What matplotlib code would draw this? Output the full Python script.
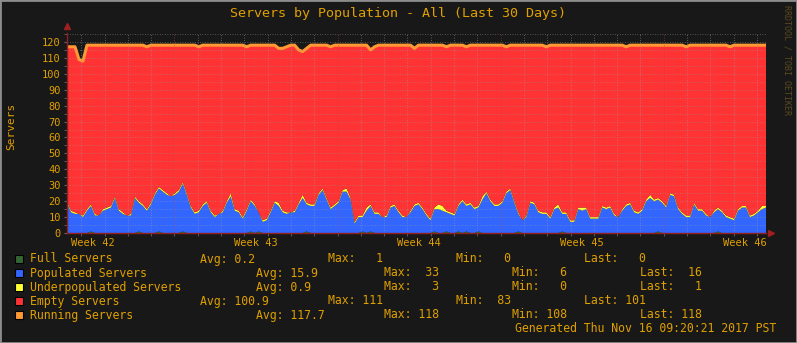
import matplotlib
matplotlib.use('Agg')
import matplotlib.pyplot as plt
import numpy as np
from matplotlib.patches import Rectangle

# Data (30 days, ~4 hour samples)
populated = [
    19, 13, 12, 12, 10, 14, 16, 11, 11, 14, 15, 16, 22, 14, 12, 11, 11, 22, 18, 17,
    14, 18, 24, 27, 26, 24, 23, 24, 26, 30, 24, 16, 12, 13, 17, 19, 13, 10, 12, 13,
    19, 23, 14, 13,
    9, 14, 19, 17, 12, 7, 8, 13, 19, 17, 13, 12, 13, 13, 18, 22, 17, 17, 17, 24,
    27, 21, 15, 17, 19, 26, 26, 21, 6, 10, 9, 14, 16, 12, 12, 10, 10, 16, 17, 13,
    10, 10, 13, 17,
    18, 15, 11, 8, 14, 15, 14, 12, 12, 11, 16, 20, 16, 18, 15, 15, 21, 25, 20, 17,
    17, 19, 25, 27, 19, 11, 8, 10, 19, 18, 13, 12, 12, 9, 15, 16, 11, 12, 7, 7,
    15, 14, 15, 9,
    9, 9, 16, 15, 16, 11, 10, 14, 17, 18, 13, 12, 14, 20, 22, 20, 20, 19, 16, 24,
    23, 15, 12, 10, 10, 18, 14, 14, 11, 10, 13, 14, 13, 10, 9, 8, 14, 16, 16, 10,
    11, 13, 15, 16,
]
underpopulated = [
    1, 1, 1, 0, 1, 1, 1, 1, 0, 1, 1, 1, 1, 1, 1, 0, 1, 1, 1, 1,
    1, 1, 1, 1, 1, 1, 0, 1, 1, 1, 1, 1, 1, 1, 1, 1, 1, 1, 0, 1,
    1, 2, 1, 1,
    1, 1, 1, 1, 0, 1, 1, 1, 1, 2, 1, 1, 0, 1, 1, 2, 1, 1, 1, 1,
    1, 1, 1, 1, 1, 1, 2, 1, 1, 1, 1, 2, 1, 1, 1, 0, 1, 1, 1, 1,
    1, 0, 1, 1,
    1, 1, 1, 1, 1, 3, 3, 1, 1, 1, 1, 1, 1, 1, 1, 1, 2, 1, 1, 1,
    1, 1, 1, 1, 1, 1, 0, 1, 1, 1, 1, 1, 1, 1, 1, 2, 1, 1, 1, 1,
    1, 2, 1, 1,
    1, 1, 1, 1, 1, 1, 0, 1, 1, 1, 1, 1, 1, 1, 2, 1, 1, 1, 1, 1,
    1, 1, 1, 1, 1, 1, 1, 1, 1, 0, 1, 1, 1, 1, 1, 1, 1, 1, 1, 1,
    1, 1, 2, 1,
]
full = [
    0, 0, 0, 0, 0, 0, 1, 0, 0, 0, 0, 0, 0, 0, 0, 0, 0, 0, 1, 0,
    0, 0, 0, 1, 0, 0, 0, 0, 0, 1, 0, 0, 0, 0, 0, 0, 0, 0, 0, 0,
    0, 0, 0, 0,
    0, 0, 1, 0, 1, 0, 0, 0, 0, 0, 0, 0, 0, 0, 0, 0, 1, 0, 0, 0,
    0, 0, 0, 0, 0, 0, 0, 0, 0, 0, 1, 0, 1, 0, 0, 0, 0, 0, 0, 0,
    0, 0, 0, 0,
    0, 0, 0, 0, 1, 0, 0, 1, 0, 0, 1, 0, 1, 0, 0, 1, 0, 0, 0, 0,
    0, 0, 0, 0, 0, 1, 0, 0, 0, 0, 0, 0, 0, 0, 0, 0, 1, 0, 0, 0,
    0, 0, 0, 0,
    0, 0, 0, 0, 0, 0, 0, 0, 0, 0, 0, 0, 0, 0, 0, 0, 1, 0, 0, 0,
    0, 0, 0, 0, 0, 0, 0, 0, 0, 0, 0, 1, 0, 0, 0, 0, 0, 0, 0, 0,
    0, 0, 0, 0,
]
running = [
    117, 117, 117, 109, 108, 118, 118, 118, 118, 118, 118, 118, 118, 118, 118, 118, 118, 118, 118, 118,
    117, 118, 118, 118, 118, 118, 118, 118, 118, 118, 118, 118, 118, 117, 118, 118, 118, 118, 118, 118,
    118, 118, 118, 118,
    118, 117, 118, 118, 118, 118, 118, 118, 118, 116, 116, 117, 118, 118, 115, 114, 116, 118, 118, 118,
    118, 118, 117, 118, 118, 118, 118, 118, 118, 118, 118, 118, 115, 117, 118, 118, 118, 118, 118, 118,
    118, 118, 118, 116,
    118, 118, 118, 118, 118, 118, 118, 117, 118, 118, 118, 118, 117, 118, 118, 118, 118, 118, 118, 118,
    118, 118, 117, 118, 118, 118, 118, 118, 118, 118, 118, 118, 117, 118, 118, 118, 118, 118, 118, 118,
    118, 118, 118, 118,
    118, 118, 118, 118, 118, 118, 118, 118, 117, 118, 118, 118, 118, 118, 118, 118, 118, 118, 118, 118,
    118, 118, 118, 117, 118, 118, 118, 118, 118, 118, 118, 118, 118, 118, 117, 118, 118, 118, 118, 118,
    118, 118, 118, 118,
]

legend_rows = [
    ('Full Servers', '#336633', ['Avg: 0.2', 'Max:   1', 'Min:   0', 'Last:   0'], 200),
    ('Populated Servers', '#3366ff', ['Avg: 15.9', 'Max:  33', 'Min:   6', 'Last:  16'], 256),
    ('Underpopulated Servers', '#ffff33', ['Avg: 0.9', 'Max:   3', 'Min:   0', 'Last:   1'], 256),
    ('Empty Servers', '#ff3333', ['Avg: 100.9', 'Max: 111', 'Min:  83', 'Last: 101'], 200),
    ('Running Servers', '#ff9933', ['Avg: 117.7', 'Max: 118', 'Min: 108', 'Last: 118'], 256),
]
week_labels = ['Week 42', 'Week 43', 'Week 44', 'Week 45', 'Week 46']

W, H = 797, 343
BG = '#181818'
TXT = '#e0a000'
MONO = 'DejaVu Sans Mono'

full = np.array(full, dtype=float)
populated = np.array(populated, dtype=float)
underpopulated = np.array(underpopulated, dtype=float)
running = np.array(running, dtype=float)
empty = running - full - populated - underpopulated
t = np.linspace(0, 30, len(running))

fig = plt.figure(figsize=(W / 100, H / 100), dpi=100, facecolor=BG)
ax = fig.add_axes([67 / W, 110 / H, 699 / W, 200 / H])
ax.set_facecolor(BG)

ax.stackplot(t, full, populated, underpopulated, empty,
             colors=['#336633', '#3366ff', '#ffff33', '#ff3333'], linewidth=0, zorder=2)
ax.plot(t, running, color='#ff9933', lw=2.2, zorder=3)

ax.set_xlim(0, 30)
ax.set_ylim(0, 125.65)

# grid: days (minor), weeks (major), y every 5
first_midnight = 0.611
for d in np.arange(first_midnight, 30, 1.0):
    major = abs(((d - 4.611) / 7) - round((d - 4.611) / 7)) < 1e-3
    ax.axvline(d, color='#c04040' if major else '#9a9a9a', lw=0.6,
               ls=(0, (1, 2)), alpha=0.7, zorder=4)
for v in range(5, 126, 5):
    ax.axhline(v, color='#9a9a9a', lw=0.6, ls=(0, (1, 2)), alpha=0.6, zorder=4)

ax.set_yticks(range(0, 121, 10))
ax.set_yticks(range(0, 126, 5), minor=True)
ax.set_xticks([1.111 + 7 * k for k in range(5)])
ax.set_xticklabels(week_labels)
ax.set_xticks(np.arange(first_midnight, 30, 1.0), minor=True)
ax.tick_params(axis='both', which='both', colors='#666666', labelcolor=TXT,
               direction='out', labelsize=7.5)
ax.tick_params(axis='y', which='both', length=2, pad=2.5)
ax.tick_params(axis='x', which='major', length=0, pad=3.5)
ax.tick_params(axis='x', which='minor', length=2)
for lab in ax.get_xticklabels() + ax.get_yticklabels():
    lab.set_family(MONO)

for s in ['top', 'right']:
    ax.spines[s].set_visible(False)
for s in ['left', 'bottom']:
    ax.spines[s].set_color('#902020')
    ax.spines[s].set_linewidth(1)
    ax.spines[s].set_zorder(5)
ax.plot([0], [129.8], marker='^', color='#a02020', ms=4, clip_on=False, zorder=6)
ax.plot([30.2], [0], marker='>', color='#a02020', ms=4, clip_on=False, zorder=6)
ax.set_ylim(0, 125.65)

fig.text(398 / W, 1 - 14 / H, 'Servers by Population - All (Last 30 Days)',
         ha='center', va='center', color=TXT, fontsize=9.6, family=MONO)
fig.text(11 / W, 1 - 126 / H, 'Servers', rotation=90, ha='center', va='center',
         color=TXT, fontsize=8, family=MONO)
fig.text(787 / W, 1 - 60 / H, 'RRDTOOL / TOBI OETIKER', rotation=270, ha='center',
         va='center', color='#5a4a1e', fontsize=6, family=MONO)

# legend
for i, (name, col, stats, x0) in enumerate(legend_rows):
    y = 259 + 14 * i
    fig.patches.append(Rectangle((15 / W, 1 - (y + 4) / H), 8 / W, 8 / H,
                                 transform=fig.transFigure, facecolor=col,
                                 edgecolor='black', lw=0.8))
    fig.text(30 / W, 1 - y / H, name, ha='left', va='center', color=TXT,
             fontsize=8.3, family=MONO)
    for j, s in enumerate(stats):
        fig.text((x0 + 128 * j) / W, 1 - y / H, s, ha='left', va='center',
                 color=TXT, fontsize=8.3, family=MONO)
fig.text(515 / W, 1 - 329 / H, 'Generated Thu Nov 16 09:20:21 2017 PST',
         ha='left', va='center', color=TXT, fontsize=8.3, family=MONO)

fig.patches.append(Rectangle((0, 0), 1, 1, transform=fig.transFigure, fill=False,
                             edgecolor='#8c8c8c', lw=2))

fig.savefig('out.png', dpi=100, facecolor=BG)
